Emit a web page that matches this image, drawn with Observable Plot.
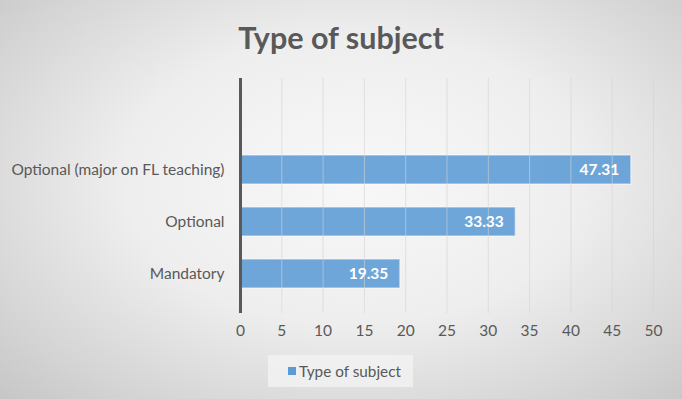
<!DOCTYPE html>
<html>
<head>
<meta charset="utf-8">
<script src="https://cdn.jsdelivr.net/npm/d3@7"></script>
<script src="https://cdn.jsdelivr.net/npm/@observablehq/plot@0.6"></script>
<style>
  html, body { margin: 0; padding: 0; }
  #chart {
    position: relative; width: 682px; height: 399px; overflow: hidden;
    background: radial-gradient(ellipse 75% 80% at 52% 45%, #f8f8f8 0%, #eeeeee 45%, #d4d4d4 80%, #c4c4c4 100%);
    font-family: Lato, "Open Sans", sans-serif;
  }
  #title {
    position: absolute; left: 0; top: 13px; width: 682px; text-align: center;
    font-size: 30.5px; font-weight: bold; color: #595959; line-height: 48px;
  }
  #plot { position: absolute; left: 0; top: 60px; }
  #legend {
    position: absolute; left: 268px; top: 355px; width: 145px; height: 32px;
    background: rgba(245,245,245,0.7); display: flex; align-items: center;
    font-size: 15.3px; color: #595959;
  }
  #legend .sw { width: 8px; height: 8px; background: #5b9bd5; margin-left: 20px; margin-right: 3px; }
</style>
</head>
<body>
<div id="chart">
  <div id="title">Type of subject</div>
  <div id="plot"></div>
  <div id="legend"><span class="sw"></span><span>Type of subject</span></div>
</div>
<script>
const categories = ["Optional (major on FL teaching)", "Optional", "Mandatory"];
const values = [47.31, 33.33, 19.35];
const xTicks = [0, 5, 10, 15, 20, 25, 30, 35, 40, 45, 50];
const seriesName = "Type of subject";

const data = categories.map((c, i) => ({category: c, value: values[i]}));
const yDomain = [" ", ...categories];

const plot = Plot.plot({
  width: 682,
  height: 290,
  marginLeft: 240,
  marginRight: 29,
  marginTop: 18,
  marginBottom: 37,
  style: {background: "transparent", fontFamily: "Lato, 'Open Sans', sans-serif", fontSize: "15px", color: "#595959"},
  x: {domain: [0, 50], label: null},
  y: {domain: yDomain, label: null, padding: 0.44},
  marks: [
    Plot.axisX({ticks: xTicks, tickSize: 0, tickPadding: 11, fontSize: 15.5, label: null}),
    Plot.axisY({tickSize: 0, tickPadding: 16, fontSize: 15.5, label: null}),
    Plot.barX(data, {
      y: "category", x: "value",
      fill: "#5b9bd5", fillOpacity: 0.88,
      stroke: "#ffffff", strokeOpacity: 0.45, strokeWidth: 1.5
    }),
    Plot.ruleX(xTicks.filter(d => d > 0), {stroke: "#d4d4d4", strokeOpacity: 0.6, strokeWidth: 1}),
    Plot.ruleX([0], {stroke: "#595959", strokeWidth: 3}),
    Plot.text(data, {
      y: "category", x: "value", text: d => d.value.toFixed(2),
      textAnchor: "end", dx: -12, fill: "white", fontWeight: "bold", fontSize: 15.5
    })
  ]
});
document.getElementById("plot").appendChild(plot);
</script>
</body>
</html>
